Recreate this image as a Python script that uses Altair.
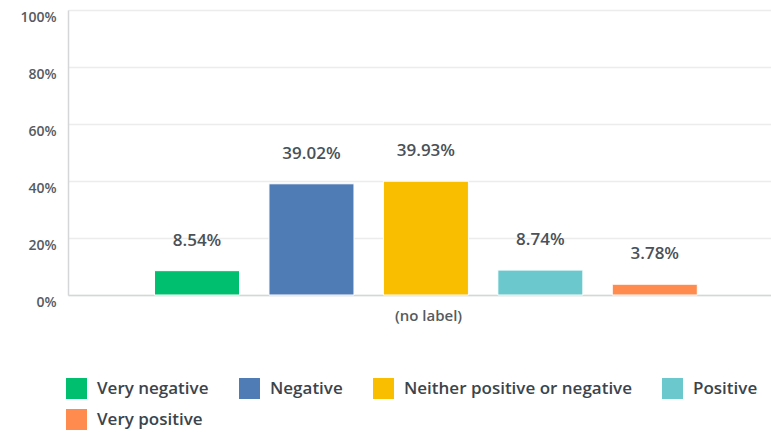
import altair as alt
import pandas as pd

categories = ["Very negative", "Negative", "Neither positive or negative", "Positive", "Very positive"]
values = [0.0854, 0.3902, 0.3993, 0.0874, 0.0378]
labels = ["8.54%", "39.02%", "39.93%", "8.74%", "3.78%"]
colors = ["#00BF6F", "#507CB6", "#F9BE00", "#6BC8CD", "#FF8B4F"]
y_ticks = [0, 0.1, 0.2, 0.3, 0.4, 0.5, 0.6, 0.7, 0.8, 0.9, 1.0]

df = pd.DataFrame({"cat": categories, "value": values, "label": labels})

FONT = "Open Sans"
TXT = "#4a5158"

x_enc = alt.X(
    "cat:N",
    sort=categories,
    scale=alt.Scale(paddingInner=0.257, paddingOuter=0.70, align=0.54),
    axis=alt.Axis(
        title="(no label)", labels=False, ticks=False, domain=True,
        domainColor="#d4d6d8", domainWidth=1.5, titleFont=FONT, titleFontSize=15,
        titleFontWeight=600, titleColor="#555b61", titleX=360, titlePadding=13,
    ),
)

bars = alt.Chart(df).mark_bar(stroke="white", strokeWidth=1).encode(
    x=x_enc,
    y=alt.Y(
        "value:Q",
        scale=alt.Scale(domain=[0, 1], nice=False),
        axis=alt.Axis(
            title=None, values=y_ticks,
            labelExpr="round(datum.value*10) % 2 == 0 ? format(datum.value, '.0%') : ''",
            ticks=False, domain=True, domainColor="#d4d6d8", domainWidth=1.5,
            gridColor="#ececec", gridWidth=1.5, labelFont=FONT, labelFontSize=14,
            labelFontWeight=600, labelColor="#555b61", labelPadding=12, labelOffset=7,
        ),
    ),
    color=alt.Color(
        "cat:N", sort=categories,
        scale=alt.Scale(domain=categories, range=colors),
        legend=alt.Legend(
            title=None, orient="none", legendX=-2, legendY=368, direction="horizontal",
            columns=4, symbolType="square", symbolSize=440, symbolStrokeWidth=0,
            labelFont=FONT, labelFontSize=17, labelFontWeight=600, labelColor="#3b444c",
            labelOffset=10, columnPadding=30, rowPadding=10, labelLimit=400,
        ),
    ),
)

text = alt.Chart(df).mark_text(
    dy=-30, baseline="middle", font=FONT, fontSize=17, fontWeight=600, color=TXT
).encode(x=alt.X("cat:N", sort=categories), y="value:Q", text="label:N")

chart = (bars + text).properties(
    width=703, height=285,
    autosize=alt.AutoSizeParams(type="none"),
    padding={"left": 68, "top": 10, "right": 0, "bottom": 139},
).configure_view(stroke=None)

chart.save("out.html", embed_options={"renderer": "svg", "actions": False})
